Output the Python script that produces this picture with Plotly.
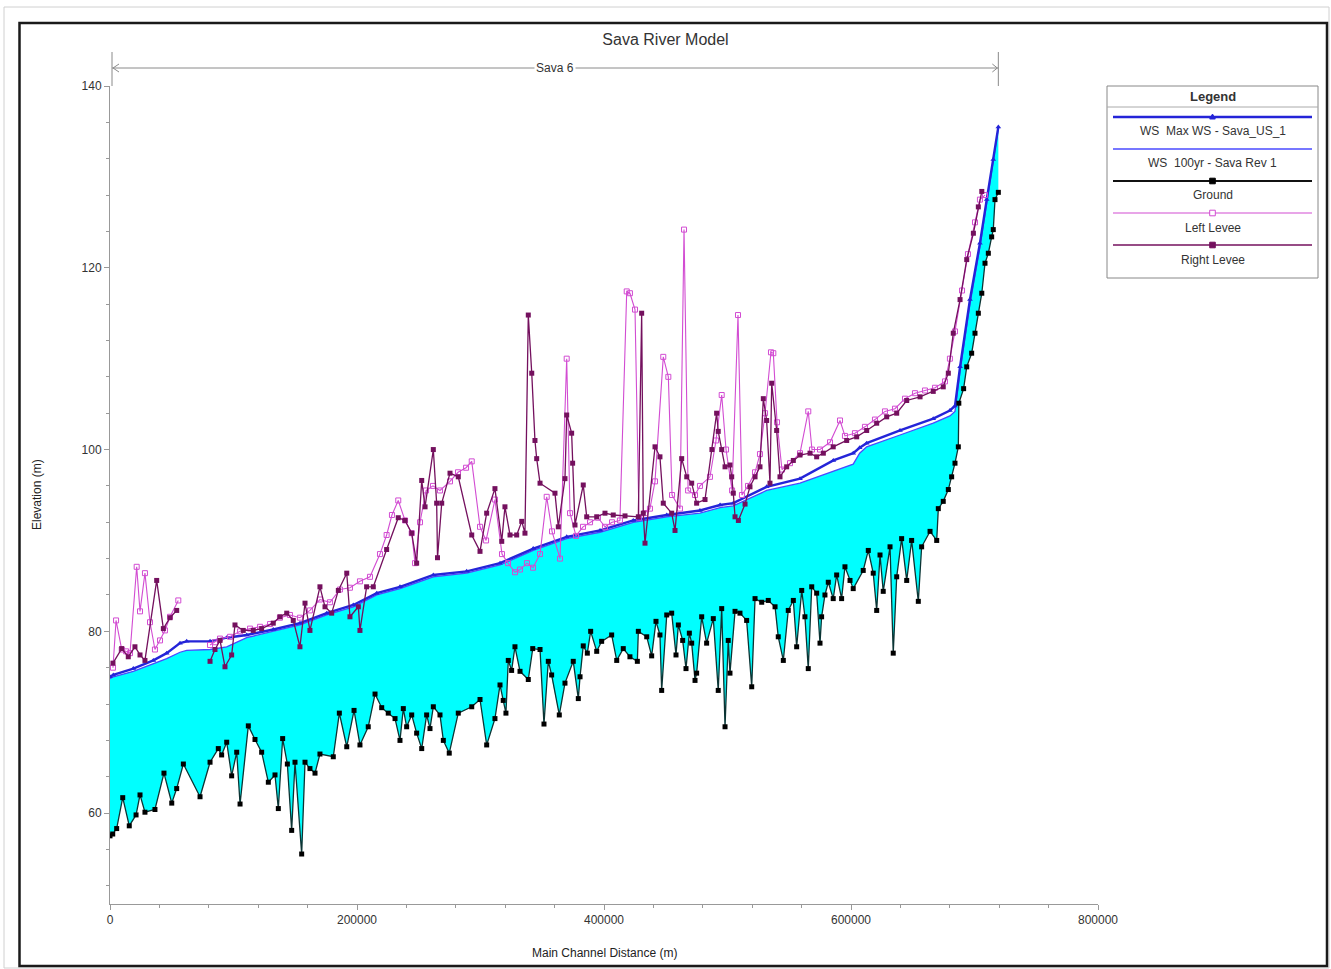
import plotly.graph_objects as go

# ---------------- data (distance in km along main channel, elevation in m) ----------------
ground_km = [0, 2.2, 5.4, 10.3, 15.6, 21.1, 24.3, 28.3, 36.4, 43.7, 50.0, 54.0, 59.4, 72.9, 81.0, 87.7, 90.4, 94.5,
             98.5, 102.6, 105.3, 112.0, 117.4, 122.8, 128.2, 133.6, 136.3, 139.8, 143.6, 147.1, 149.8, 155.2, 157.9,
             161.9, 166.0, 170.0, 180.8, 185.7, 191.7, 197.6, 202.4, 209.1, 214.6, 220.0, 225.3, 230.8, 234.8, 237.5,
             240.2, 244.3, 248.3, 252.4, 256.4, 259.1, 261.8, 267.2, 269.9, 274.7, 282.0, 292.9, 299.6, 305.0, 311.7,
             315.8, 318.4, 320.6, 322.5, 325.2, 327.9, 332.0, 338.7, 342.3, 348.2, 351.4, 354.9, 357.6, 363.8, 368.4,
             375.1, 379.2, 380.6, 383.2, 386.5, 389.2, 394.1, 398.1, 406.2, 410.3, 415.6, 421.0, 427.0, 427.8, 434.6,
             438.6, 442.1, 445.3, 446.7, 450.8, 454.8, 458.3, 460.2, 463.7, 466.4, 469.1, 471.0, 473.7, 475.0, 479.1,
             483.1, 488.5, 492.5, 495.3, 498.0, 500.6, 502.0, 506.1, 510.1, 515.5, 519.6, 522.3, 527.7, 533.0, 538.5,
             541.1, 545.2, 549.2, 553.3, 556.0, 560.1, 562.7, 565.4, 568.2, 572.2, 574.9, 576.2, 578.9, 581.6, 585.6,
             588.4, 592.4, 595.1, 599.2, 601.8, 609.9, 614.0, 618.0, 620.8, 623.5, 626.1, 631.6, 634.2, 637.0, 641.0,
             645.1, 649.1, 654.5, 657.2, 664.0, 669.4, 670.7, 674.7, 678.8, 681.5, 684.2, 686.9, 687.3, 691.2, 693.7,
             697.7, 700.4, 703.1, 705.9, 708.5, 711.2, 713.9, 715.2, 716.6, 719.3]
ground_el = [57.5, 57.7, 58.3, 61.7, 58.6, 59.8, 62.0, 60.1, 60.4, 64.4, 61.1, 62.7, 65.4, 61.8, 65.6, 67.1, 66.4, 67.8,
             64.1, 66.7, 61.0, 69.6, 68.1, 66.7, 63.4, 64.2, 60.5, 68.2, 65.4, 58.1, 65.6, 55.5, 65.6,
             64.9, 64.4, 66.5, 66.2, 71.0, 67.3, 71.3, 67.5, 69.5, 73.1, 71.6, 71.0, 70.4, 68.0, 71.5,
             69.5, 70.8, 68.8, 67.1, 70.8, 69.3, 71.7, 70.8, 68.0, 66.6, 71.0, 71.7, 72.5, 67.5, 70.4,
             74.1, 72.4, 71.0, 76.8, 75.7, 78.3, 75.6, 74.7, 78.1, 78.0, 69.8, 76.7, 75.2, 70.8, 74.3,
             76.7, 72.6, 75.0, 78.4, 77.6, 80.0, 77.8, 78.9, 79.6, 76.8, 78.1, 77.2, 76.7, 80.0, 79.4,
             77.3, 81.1, 79.6, 73.5, 81.8, 82.0, 77.4, 80.7, 79.0, 75.9, 79.8, 78.7, 74.6, 75.4, 81.6,
             78.7, 81.4, 73.5, 82.5, 69.5, 79.0, 75.4, 82.2, 82.0, 81.2, 73.9, 83.6, 83.2, 83.4, 82.7,
             79.4, 76.8, 82.3, 83.4, 78.3, 84.5, 81.6, 75.9, 84.9, 84.2, 78.7, 81.6, 84.0, 85.4, 83.6,
             86.2, 83.6, 87.1, 85.6, 84.7, 86.7, 88.9, 86.4, 82.3, 88.4, 84.4, 89.3, 77.6, 86.0, 90.2,
             85.6, 90.0, 83.3, 89.3, 91.0, 90.0, 93.5, 94.3, 95.6, 97.0, 98.5, 100.3, 105.1, 106.7, 109.1,
             110.6, 112.8, 115.0, 117.2, 120.5, 121.6, 123.4, 124.2, 127.5, 128.3]

ws_km = [0, 2.7, 18.9, 35.1, 45.9, 56.7, 62.1, 81.0, 94.5, 110.7, 132.2, 153.8, 175.5, 197.0, 216.0, 234.8, 261.8,
         288.8, 315.8, 342.7, 369.8, 396.8, 423.7, 450.8, 477.7, 494.0, 504.7, 531.7, 558.7, 585.7, 601.8, 607.0, 612.7,
         639.7, 666.6, 680.1, 684.2, 688.3, 696.3, 704.4, 709.9, 715.2, 719.3]
ws_max_el = [75.0, 75.2, 75.9, 76.8, 77.6, 78.7, 78.9, 78.9, 79.3, 79.6, 80.2, 80.9, 82.0, 82.9, 84.2, 84.9, 86.2,
             86.6, 87.5, 89.1, 90.4, 91.1, 92.2, 92.8, 93.3, 93.9, 94.1, 95.9, 96.8, 98.8, 99.6, 100.2, 100.7,
             102.1, 103.4, 104.3, 104.8, 109.1, 116.5, 122.7, 127.5, 131.9, 135.5]
ws_100_el = [74.8, 75.0, 75.6, 76.4, 77.0, 77.7, 77.9, 78.0, 78.3, 79.3, 80.0, 80.7, 81.8, 82.7, 84.0, 84.7, 86.0,
             86.4, 87.3, 88.9, 90.2, 90.9, 92.0, 92.6, 93.0, 93.6, 93.8, 95.5, 96.3, 97.6, 98.4, 99.6, 100.3,
             101.6, 102.9, 103.7, 104.2, 108.6, 116.0, 122.3, 127.2, 131.7, 135.4]

left_levee_km = [2.4, 4.9, 9.5, 13.0, 16.2, 21.6, 24.3, 28.3, 32.4, 36.4, 40.5, 44.5, 48.6, 55.3, None,
                 81.0, 85.0, 89.1, 97.2, 105.3, 113.4, 121.5, 129.6, 137.6, 145.7, 153.8, 161.9, 170.0, 178.1, 186.2,
                 194.3, 202.4, 210.5, 218.6, 224.0, 228.3, 233.4, 238.9, 244.3, 247.0, 251.0, 255.9, 261.5, 267.2,
                 275.3, 281.8, 288.3, 292.9, 299.6, 304.5, 311.7, 317.4, 322.3, 327.9, 332.0, 337.6, 342.5, 348.2,
                 353.6, 357.9, 364.4, 369.8, 372.5, 377.3, 383.0, 388.7, 395.1, 400.8, 406.5, 412.9, 418.4, 421.0,
                 425.1, 428.3, 433.2, 437.2, 441.3, 448.0, 452.1, 455.1, 461.5, 464.8, 468.1, 473.7, 477.7, 485.8,
                 490.7, 495.3, 498.8, 503.7, 508.5, 511.7, 516.6, 522.3, 526.3, 530.4, 535.2, 537.1, 540.1, 544.1,
                 550.6, 558.7, 565.4, 568.4, 574.9, 583.0, 591.1, 595.1, 603.2, 611.3, 619.4, 627.5, 635.6, 643.7,
                 651.8, 659.9, 668.0, 676.1, 680.1, 684.2, 689.9, 694.7, 700.4, 704.4, 708.5]
left_levee_el = [76.0, 81.2, 78.0, 77.8, 77.6, 87.1, 82.2, 86.4, 81.0, 78.0, 79.0, 80.1, 81.6, 83.4, None,
                 78.5, 78.8, 79.2, 79.4, 80.0, 80.3, 80.5, 80.8, 81.5, 81.8, 81.5, 82.3, 83.5, 83.2, 84.6,
                 84.8, 85.5, 86.0, 88.5, 90.6, 92.8, 94.4, 92.2, 90.8, 87.5, 92.0, 95.5, 96.0, 95.5,
                 96.5, 97.5, 98.0, 98.7, 91.5, 90.0, 94.5, 88.5, 87.5, 86.5, 86.8, 87.5, 87.0, 88.5,
                 94.8, 91.0, 88.0, 110.0, 93.0, 90.5, 91.5, 92.0, 92.5, 91.5, 92.0, 92.2, 117.4, 117.2,
                 115.4, 92.5, 93.0, 93.5, 96.5, 110.2, 108.0, 95.0, 93.5, 124.2, 95.5, 95.0, 96.0, 97.0,
                 101.0, 106.0, 100.0, 95.5, 114.8, 95.0, 96.0, 97.5, 99.5, 104.0, 110.7, 110.6, 103.0, 97.8,
                 98.5, 99.6, 104.2, 100.0, 100.0, 100.8, 103.2, 101.5, 101.8, 102.5, 103.3, 104.2, 104.5, 105.6,
                 106.2, 106.5, 106.8, 107.5, 110.0, 113.0, 117.5, 121.5, 125.0, 127.5, 128.0]

right_levee_km = [2.4, 9.5, 14.8, 20.2, 24.3, 28.3, 37.8, 43.2, 48.6, 54.0, None,
                  81.0, 85.0, 89.1, 93.1, 98.5, 101.2, 107.9, 116.0, 122.8, 132.2, 137.6, 143.1, 148.4, 153.8, 157.9,
                  161.9, 170.0, 174.1, 179.5, 184.9, 191.7, 194.3, 201.1, 202.4, 207.8, 213.2, 224.0, 233.4, 238.9,
                  244.3, 248.3, 252.4, 255.1, 261.8, 264.5, 265.2, 268.6, 275.3, 282.0, 292.9, 299.6, 305.0, 311.7,
                  317.2, 319.8, 323.9, 329.3, 333.4, 336.0, 338.7, 341.5, 344.1, 345.5, 348.2, 360.3, 363.0, 368.4,
                  369.8, 373.8, 374.6, 376.5, 383.2, 386.0, 394.1, 400.8, 407.5, 417.0, 427.8, 430.5, 431.8, 433.2,
                  441.3, 445.3, 448.0, 454.8, 457.5, 462.9, 467.0, 471.0, 475.0, 481.8, 487.4, 491.2, 492.5, 495.3,
                  498.0, 502.0, 503.4, 504.7, 506.1, 508.8, 514.2, 518.2, 522.3, 526.3, 529.0, 531.7, 534.4, 535.8,
                  539.8, 542.5, 547.9, 553.3, 558.7, 566.8, 572.2, 577.6, 585.6, 596.5, 604.6, 612.7, 620.8, 628.9,
                  637.0, 645.1, 655.9, 666.6, 674.7, 678.8, 682.8, 688.3, 693.7, 699.1, 703.1, 705.9]
right_levee_el = [76.5, 78.1, 77.2, 78.3, 77.4, 76.8, 85.6, 80.3, 81.5, 82.3, None,
                  76.7, 78.0, 79.0, 76.1, 77.4, 80.7, 80.1, 80.1, 80.3, 80.9, 81.6, 82.0, 81.2, 78.3, 83.1,
                  80.1, 84.9, 82.7, 82.0, 84.5, 86.4, 81.6, 82.7, 80.1, 84.9, 84.9, 89.0, 92.5, 92.2,
                  90.8, 87.5, 96.6, 93.7, 100.0, 94.1, 88.1, 94.1, 97.4, 97.0, 90.6, 88.8, 93.0, 95.7,
                  89.9, 93.7, 90.6, 90.6, 92.1, 90.8, 114.8, 108.4, 101.0, 99.0, 96.3, 95.2, 91.5, 96.8,
                  103.8, 101.8, 98.5, 91.7, 96.1, 92.6, 92.6, 93.0, 92.8, 92.7, 92.6, 115.0, 93.0, 89.7,
                  100.3, 99.2, 94.1, 93.0, 91.1, 99.0, 97.0, 96.3, 94.1, 94.5, 100.0, 104.0, 102.0, 100.0,
                  98.1, 98.3, 97.0, 95.2, 92.6, 92.2, 94.0, 95.9, 97.0, 98.1, 105.6, 103.2, 96.3, 107.3,
                  102.1, 97.0, 98.1, 98.8, 99.4, 99.6, 99.2, 99.6, 100.3, 101.0, 101.4, 102.1, 102.9, 103.6,
                  104.0, 105.4, 105.8, 106.4, 106.9, 108.4, 112.8, 116.5, 120.9, 123.8, 126.7, 128.4]

series_names = ["WS  Max WS - Sava_US_1", "WS  100yr - Sava Rev 1", "Ground", "Left Levee", "Right Levee"]
reach_name = "Sava 6"
x_ticks = [0, 200000, 400000, 600000, 800000]
y_ticks = [60, 80, 100, 120, 140]

# ---------------- styles ----------------
C_WSMAX = "#2424d8"
C_WS100 = "#4a4aff"
C_GROUND = "#0c3434"
C_LEFT = "#d24cd2"
C_RIGHT = "#74105e"
C_WATER = "#00ffff"
FONT = "Liberation Sans, Arial, sans-serif"

W, H = 1331, 969
ML, MR, MT, MB = 110, 233, 86, 65
PW, PH = W - ML - MR, H - MT - MB


def px(xp):
    return (xp - ML) / PW


def py(yp):
    return (H - MB - yp) / PH


def m(km_list):
    return [None if v is None else v * 1000 for v in km_list]


g_x = m(ground_km)
w_x = m(ws_km)

fig = go.Figure()

# water fill between 100yr water surface and ground
fig.add_trace(go.Scatter(
    x=w_x + g_x[::-1], y=ws_100_el + ground_el[::-1],
    fill="toself", fillcolor=C_WATER, line=dict(width=0), mode="lines",
    hoverinfo="skip", showlegend=False))

fig.add_trace(go.Scatter(x=w_x, y=ws_100_el, mode="lines", name=series_names[1],
                         line=dict(color=C_WS100, width=1.3), showlegend=False))
fig.add_trace(go.Scatter(x=w_x, y=ws_max_el, mode="lines+markers", name=series_names[0],
                         line=dict(color=C_WSMAX, width=2.4),
                         marker=dict(symbol="triangle-up", size=5, color=C_WSMAX), showlegend=False))
fig.add_trace(go.Scatter(x=g_x, y=ground_el, mode="lines+markers", name=series_names[2],
                         line=dict(color=C_GROUND, width=1.3),
                         marker=dict(symbol="square", size=5, color="#000000"), showlegend=False))
fig.add_trace(go.Scatter(x=m(left_levee_km), y=left_levee_el, mode="lines+markers", name=series_names[3],
                         line=dict(color=C_LEFT, width=1.1), connectgaps=False,
                         marker=dict(symbol="square-open", size=5, color=C_LEFT), showlegend=False))
fig.add_trace(go.Scatter(x=m(right_levee_km), y=right_levee_el, mode="lines+markers", name=series_names[4],
                         line=dict(color=C_RIGHT, width=1.3), connectgaps=False,
                         marker=dict(symbol="square", size=5, color=C_RIGHT), showlegend=False))

shapes = []
annotations = []

# outer frames
shapes.append(dict(type="rect", xref="paper", yref="paper", x0=px(4), x1=px(1329), y0=py(968), y1=py(7),
                   line=dict(color="#d0d0d0", width=1)))
shapes.append(dict(type="rect", xref="paper", yref="paper", x0=px(19.5), x1=px(1327), y0=py(966), y1=py(23),
                   line=dict(color="#1a1a1a", width=2.5)))

# reach marker above the plot
x_end = max(ws_km) * 1000 / x_ticks[-1]
yl = py(68)
gray = "#8a8a8a"
shapes += [
    dict(type="line", xref="paper", yref="paper", x0=px(112), x1=x_end, y0=yl, y1=yl, line=dict(color=gray, width=1)),
    dict(type="line", xref="paper", yref="paper", x0=px(112), x1=px(112), y0=py(86), y1=py(52), line=dict(color=gray, width=1)),
    dict(type="line", xref="paper", yref="paper", x0=x_end, x1=x_end, y0=py(86), y1=py(52), line=dict(color=gray, width=1)),
    dict(type="path", xref="paper", yref="paper",
         path=f"M {px(119)},{py(64)} L {px(113)},{yl} L {px(119)},{py(72)}", line=dict(color=gray, width=1)),
]
xe_px = ML + x_end * PW
shapes.append(dict(type="path", xref="paper", yref="paper",
                   path=f"M {px(xe_px-6)},{py(64)} L {px(xe_px-1)},{yl} L {px(xe_px-6)},{py(72)}",
                   line=dict(color=gray, width=1)))
annotations.append(dict(text=reach_name, xref="paper", yref="paper", x=(px(112) + x_end) / 2, y=yl,
                        xanchor="center", yanchor="middle",
                        showarrow=False, bgcolor="white", font=dict(size=12, color="#333", family=FONT),
                        borderpad=1))

# axis titles
annotations.append(dict(text="Main Channel Distance (m)", xref="paper", yref="paper", x=0.5, y=py(953),
                        xanchor="center", yanchor="middle",
                        showarrow=False, font=dict(size=12, color="#222", family=FONT)))
annotations.append(dict(text="Elevation (m)", xref="paper", yref="paper", x=px(37), y=0.5, textangle=-90,
                        xanchor="center", yanchor="middle",
                        showarrow=False, font=dict(size=12, color="#222", family=FONT)))

# custom HEC-RAS-style legend
lx0, lx1 = 1107, 1318
shapes.append(dict(type="rect", xref="paper", yref="paper", x0=px(lx0), x1=px(lx1), y0=py(278), y1=py(86),
                   line=dict(color="#888", width=1), fillcolor="white", layer="above"))
shapes.append(dict(type="line", xref="paper", yref="paper", x0=px(lx0), x1=px(lx1), y0=py(107), y1=py(107),
                   line=dict(color="#aaa", width=1), layer="above"))
cx = (lx0 + lx1) / 2
annotations.append(dict(text="<b>Legend</b>", xref="paper", yref="paper", x=px(cx), y=py(96),
                        xanchor="center", yanchor="middle",
                        showarrow=False, font=dict(size=13, color="#333", family=FONT)))
legend_rows = [
    (series_names[0], C_WSMAX, 2.4, "tri"),
    (series_names[1], C_WS100, 1.5, None),
    (series_names[2], "#111", 2.0, "sq"),
    (series_names[3], C_LEFT, 1.1, "osq"),
    (series_names[4], C_RIGHT, 1.3, "sq_r"),
]
for i, (nm, col, wd, mk) in enumerate(legend_rows):
    ly = 117 + 32 * i
    ty = 131 + 32.2 * i
    shapes.append(dict(type="line", xref="paper", yref="paper", x0=px(lx0 + 6), x1=px(lx1 - 6), y0=py(ly), y1=py(ly),
                       line=dict(color=col, width=wd), layer="above"))
    s = 2.8
    if mk == "tri":
        shapes.append(dict(type="path", xref="paper", yref="paper",
                           path=f"M {px(cx-s)},{py(ly+2)} L {px(cx+s)},{py(ly+2)} L {px(cx)},{py(ly-3)} Z",
                           fillcolor=col, line=dict(color=col, width=1), layer="above"))
    elif mk in ("sq", "sq_r"):
        fc = "#000" if mk == "sq" else C_RIGHT
        shapes.append(dict(type="rect", xref="paper", yref="paper", x0=px(cx - s), x1=px(cx + s),
                           y0=py(ly + s), y1=py(ly - s), fillcolor=fc, line=dict(color=fc, width=1), layer="above"))
    elif mk == "osq":
        shapes.append(dict(type="rect", xref="paper", yref="paper", x0=px(cx - s), x1=px(cx + s),
                           y0=py(ly + s), y1=py(ly - s), fillcolor="white", line=dict(color=col, width=1), layer="above"))
    annotations.append(dict(text=nm, xref="paper", yref="paper", x=px(cx), y=py(ty), showarrow=False,
                            xanchor="center", yanchor="middle",
                            font=dict(size=12, color="#333", family=FONT)))

fig.update_layout(
    width=W, height=H,
    margin=dict(l=ML, r=MR, t=MT, b=MB, pad=0),
    paper_bgcolor="white", plot_bgcolor="white",
    title=dict(text="Sava River Model", x=0.5, xref="container", y=1 - 39 / H, yref="container",
               xanchor="center", yanchor="middle", font=dict(size=16, color="#333", family=FONT)),
    shapes=shapes, annotations=annotations,
    showlegend=False,
    font=dict(family=FONT, color="#333"),
)
fig.update_xaxes(range=[0, x_ticks[-1]], tickvals=x_ticks, ticktext=[str(v) for v in x_ticks],
                 showgrid=False, zeroline=False, showline=True, linecolor="#999", linewidth=1,
                 ticks="outside", ticklen=5, tickcolor="#999", tickfont=dict(size=12, color="#333"),
                 minor=dict(dtick=40000, tick0=0, ticks="outside", ticklen=3, tickcolor="#999"))
fig.update_yaxes(range=[50, 140], tickvals=y_ticks, showgrid=False, zeroline=False, showline=True,
                 linecolor="#999", linewidth=1, ticks="outside", ticklen=5, tickcolor="#999",
                 tickfont=dict(size=12, color="#333"),
                 minor=dict(dtick=4, tick0=0, ticks="outside", ticklen=3, tickcolor="#999"))

fig.write_html("out.html", config={"displayModeBar": False},
               post_script="document.body.style.margin='0';document.body.style.overflow='hidden';")
